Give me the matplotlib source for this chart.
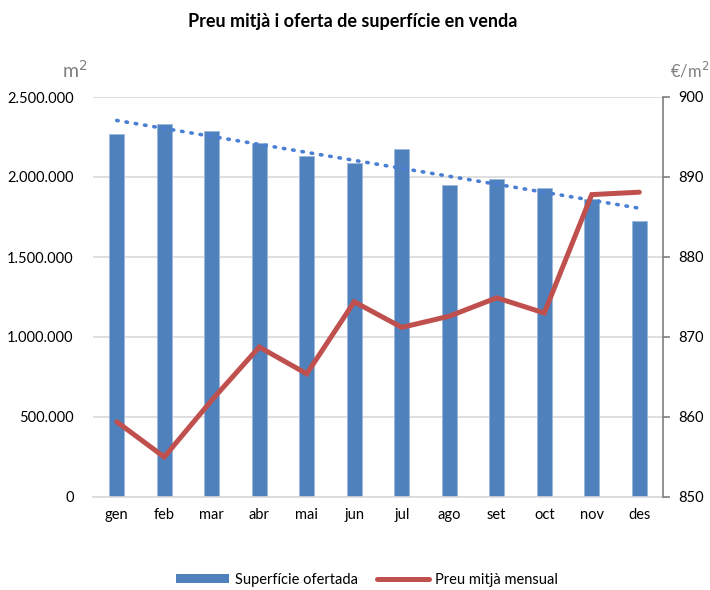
import numpy as np
import matplotlib
matplotlib.use("Agg")
import matplotlib.pyplot as plt
from matplotlib.ticker import FuncFormatter, MultipleLocator
from matplotlib.patches import Patch
from matplotlib.lines import Line2D

plt.rcParams['font.family'] = ['Lato', 'DejaVu Sans']

months = ["gen", "feb", "mar", "abr", "mai", "jun", "jul", "ago", "set", "oct", "nov", "des"]
surface = [2270000, 2330000, 2290000, 2210000, 2133000, 2085000, 2173000, 1952000, 1985000, 1933000, 1862000, 1727000]
price = [859.4, 855.0, 862.1, 868.75, 865.4, 874.4, 871.2, 872.6, 874.9, 873.0, 887.8, 888.1]

bar_color = "#4F81BD"
line_color = "#C0504D"
trend_color = "#4A7FD4"

fig = plt.figure(figsize=(7.1, 5.9), dpi=100)
ax = fig.add_axes([93/710, 1-497/590, (663-93)/710, 400/590])
x = np.arange(len(months))

ax.bar(x, surface, width=0.31, color=bar_color, edgecolor="#9BB7DC", linewidth=0.6, zorder=2)
coef = np.polyfit(x, surface, 1)
ax.plot(x, np.polyval(coef, x), linestyle=(0, (0.4, 2.2)), dash_capstyle='round',
        color=trend_color, linewidth=2.6, zorder=3)

ax.set_xlim(-0.5, len(months) - 0.5)
ax.set_ylim(0, 2500000)
ax.yaxis.set_major_locator(MultipleLocator(500000))
ax.yaxis.set_major_formatter(FuncFormatter(lambda v, p: f"{int(v):,}".replace(",", ".")))
ax.grid(axis='y', color="#D9D9D9", linewidth=1.2, zorder=0)
ax.set_axisbelow(True)
for s in ["top", "left", "right"]:
    ax.spines[s].set_visible(False)
ax.spines["bottom"].set_color("#D9D9D9")
ax.spines["bottom"].set_linewidth(1.2)
ax.tick_params(axis='y', length=0, pad=14, labelsize=10.5)
ax.tick_params(axis='x', length=0, pad=8, labelsize=10.5)
ax.set_xticks(x)
ax.set_xticklabels(months)

ax2 = ax.twinx()
ax2.plot(x, price, color=line_color, linewidth=3.6, solid_capstyle='round', solid_joinstyle='miter', zorder=4)
ax2.set_ylim(850, 900)
ax2.yaxis.set_major_locator(MultipleLocator(10))
for s in ["top", "left", "bottom"]:
    ax2.spines[s].set_visible(False)
ax2.spines["right"].set_color("#7F7F7F")
ax2.spines["right"].set_linewidth(1.2)
ax2.tick_params(axis='y', length=5, width=1.2, color="#7F7F7F", pad=6, labelsize=10.5)

fig.text(353/710, 1-22/590, "Preu mitjà i oferta de superfície en venda", ha='center', va='center',
         fontsize=13, fontweight='bold')
fig.text(75/710, 1-70/590, "m$^2$", ha='center', va='center', fontsize=14, color="#808080")
fig.text(690/710, 1-70/590, "€/m$^2$", ha='center', va='center', fontsize=12, color="#808080")

handles = [Patch(facecolor=bar_color), Line2D([0], [0], color=line_color, linewidth=3.6, solid_capstyle='round')]
fig.legend(handles, ["Superfície ofertada", "Preu mitjà mensual"], loc='center', bbox_to_anchor=(367/710, 1-580/590),
           ncol=2, frameon=False, fontsize=10.5, handlelength=3.6, handleheight=0.55, columnspacing=1.3, handletextpad=0.4)

fig.savefig("out.png", dpi=100)
